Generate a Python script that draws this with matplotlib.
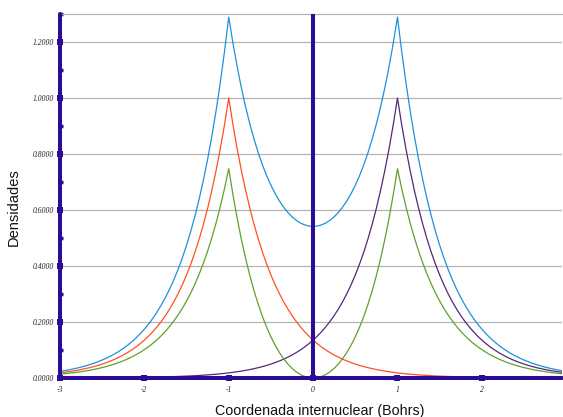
import matplotlib
matplotlib.use("Agg")
import matplotlib.pyplot as plt
from matplotlib.ticker import MultipleLocator, FormatStrFormatter

# === DATA (step 0.05 from -3 to 3) ===
x_vals = [round(-3.0 + 0.05 * i, 2) for i in range(121)]

# bonding density (blue)
dens_enlazante = [
    0.0236, 0.0261, 0.0288, 0.0319, 0.0352, 0.0389, 0.0430, 0.0475, 0.0525, 0.0581,
    0.0642, 0.0709, 0.0784, 0.0866, 0.0957, 0.1058, 0.1169, 0.1292, 0.1428, 0.1578,
    0.1744, 0.1928, 0.2131, 0.2355, 0.2602, 0.2876, 0.3179, 0.3513, 0.3882, 0.4291,
    0.4742, 0.5241, 0.5792, 0.6401, 0.7074, 0.7818, 0.8640, 0.9549, 1.0553, 1.1663,
    1.2890, 1.1958, 1.1118, 1.0362, 0.9683, 0.9074, 0.8529, 0.8041, 0.7608, 0.7223,
    0.6883, 0.6586, 0.6327, 0.6104, 0.5915, 0.5759, 0.5633, 0.5536, 0.5468, 0.5427,
    0.5413,
    0.5427, 0.5468, 0.5536, 0.5633, 0.5759, 0.5915, 0.6104, 0.6327, 0.6586, 0.6883,
    0.7223, 0.7608, 0.8041, 0.8529, 0.9074, 0.9683, 1.0362, 1.1118, 1.1958, 1.2890,
    1.1663, 1.0553, 0.9549, 0.8640, 0.7818, 0.7074, 0.6401, 0.5792, 0.5241, 0.4742,
    0.4291, 0.3882, 0.3513, 0.3179, 0.2876, 0.2602, 0.2355, 0.2131, 0.1928, 0.1744,
    0.1578, 0.1428, 0.1292, 0.1169, 0.1058, 0.0957, 0.0866, 0.0784, 0.0709, 0.0642,
    0.0581, 0.0525, 0.0475, 0.0430, 0.0389, 0.0352, 0.0319, 0.0288, 0.0261, 0.0236]

# atom A density (red)
dens_atomo_a = [
    0.0183, 0.0202, 0.0224, 0.0247, 0.0273, 0.0302, 0.0334, 0.0369, 0.0408, 0.0450,
    0.0498, 0.0550, 0.0608, 0.0672, 0.0743, 0.0821, 0.0907, 0.1003, 0.1108, 0.1225,
    0.1353, 0.1496, 0.1653, 0.1827, 0.2019, 0.2231, 0.2466, 0.2725, 0.3012, 0.3329,
    0.3679, 0.4066, 0.4493, 0.4966, 0.5488, 0.6065, 0.6703, 0.7408, 0.8187, 0.9048,
    1.0000,
    0.9048, 0.8187, 0.7408, 0.6703, 0.6065, 0.5488, 0.4966, 0.4493, 0.4066, 0.3679,
    0.3329, 0.3012, 0.2725, 0.2466, 0.2231, 0.2019, 0.1827, 0.1653, 0.1496, 0.1353,
    0.1225, 0.1108, 0.1003, 0.0907, 0.0821, 0.0743, 0.0672, 0.0608, 0.0550, 0.0498,
    0.0450, 0.0408, 0.0369, 0.0334, 0.0302, 0.0273, 0.0247, 0.0224, 0.0202, 0.0183,
    0.0166, 0.0150, 0.0136, 0.0123, 0.0111, 0.0101, 0.0091, 0.0082, 0.0074, 0.0067,
    0.0061, 0.0055, 0.0050, 0.0045, 0.0041, 0.0037, 0.0033, 0.0030, 0.0027, 0.0025,
    0.0022, 0.0020, 0.0018, 0.0017, 0.0015, 0.0014, 0.0012, 0.0011, 0.0010, 0.0009,
    0.0008, 0.0007, 0.0007, 0.0006, 0.0006, 0.0005, 0.0005, 0.0004, 0.0004, 0.0003]

# atom B density (purple)
dens_atomo_b = [
    0.0003, 0.0004, 0.0004, 0.0005, 0.0005, 0.0006, 0.0006, 0.0007, 0.0007, 0.0008,
    0.0009, 0.0010, 0.0011, 0.0012, 0.0014, 0.0015, 0.0017, 0.0018, 0.0020, 0.0022,
    0.0025, 0.0027, 0.0030, 0.0033, 0.0037, 0.0041, 0.0045, 0.0050, 0.0055, 0.0061,
    0.0067, 0.0074, 0.0082, 0.0091, 0.0101, 0.0111, 0.0123, 0.0136, 0.0150, 0.0166,
    0.0183, 0.0202, 0.0224, 0.0247, 0.0273, 0.0302, 0.0334, 0.0369, 0.0408, 0.0450,
    0.0498, 0.0550, 0.0608, 0.0672, 0.0743, 0.0821, 0.0907, 0.1003, 0.1108, 0.1225,
    0.1353, 0.1496, 0.1653, 0.1827, 0.2019, 0.2231, 0.2466, 0.2725, 0.3012, 0.3329,
    0.3679, 0.4066, 0.4493, 0.4966, 0.5488, 0.6065, 0.6703, 0.7408, 0.8187, 0.9048,
    1.0000,
    0.9048, 0.8187, 0.7408, 0.6703, 0.6065, 0.5488, 0.4966, 0.4493, 0.4066, 0.3679,
    0.3329, 0.3012, 0.2725, 0.2466, 0.2231, 0.2019, 0.1827, 0.1653, 0.1496, 0.1353,
    0.1225, 0.1108, 0.1003, 0.0907, 0.0821, 0.0743, 0.0672, 0.0608, 0.0550, 0.0498,
    0.0450, 0.0408, 0.0369, 0.0334, 0.0302, 0.0273, 0.0247, 0.0224, 0.0202, 0.0183]

# antibonding density (green)
dens_antienlazante = [
    0.0137, 0.0151, 0.0167, 0.0185, 0.0204, 0.0226, 0.0250, 0.0276, 0.0305, 0.0337,
    0.0372, 0.0411, 0.0455, 0.0502, 0.0555, 0.0614, 0.0678, 0.0750, 0.0828, 0.0916,
    0.1012, 0.1118, 0.1236, 0.1366, 0.1509, 0.1668, 0.1844, 0.2038, 0.2252, 0.2489,
    0.2750, 0.3040, 0.3359, 0.3713, 0.4103, 0.4535, 0.5012, 0.5539, 0.6121, 0.6765,
    0.7476, 0.6544, 0.5704, 0.4949, 0.4270, 0.3661, 0.3115, 0.2628, 0.2194, 0.1810,
    0.1470, 0.1172, 0.0913, 0.0691, 0.0502, 0.0346, 0.0219, 0.0123, 0.0054, 0.0014,
    0.0000,
    0.0014, 0.0054, 0.0123, 0.0219, 0.0346, 0.0502, 0.0691, 0.0913, 0.1172, 0.1470,
    0.1810, 0.2194, 0.2628, 0.3115, 0.3661, 0.4270, 0.4949, 0.5704, 0.6544, 0.7476,
    0.6765, 0.6121, 0.5539, 0.5012, 0.4535, 0.4103, 0.3713, 0.3359, 0.3040, 0.2750,
    0.2489, 0.2252, 0.2038, 0.1844, 0.1668, 0.1509, 0.1366, 0.1236, 0.1118, 0.1012,
    0.0916, 0.0828, 0.0750, 0.0678, 0.0614, 0.0555, 0.0502, 0.0455, 0.0411, 0.0372,
    0.0337, 0.0305, 0.0276, 0.0250, 0.0226, 0.0204, 0.0185, 0.0167, 0.0151, 0.0137]

x_ticks = [-3, -2, -1, 0, 1, 2]

# === STYLE ===
AXIS_COL = "#2a0c96"
GRID_COL = "#b4b4b4"
TICK_FONT = {"family": "Liberation Serif", "style": "italic", "size": 5.5}

fig = plt.figure(figsize=(5.63, 4.17), dpi=100)
ax = fig.add_axes([60 / 563, 39 / 417, 502 / 563, 364 / 417])

ax.plot(x_vals, dens_enlazante, color="#1e90dc", lw=0.9, zorder=3)
ax.plot(x_vals, dens_atomo_a, color="#ff5022", lw=0.9, zorder=3)
ax.plot(x_vals, dens_atomo_b, color="#55267a", lw=0.9, zorder=3)
ax.plot(x_vals, dens_antienlazante, color="#62a02a", lw=0.9, zorder=3)

ax.set_xlim(-3, 2.95)
ax.set_ylim(0, 1.3)

# gridlines + axes
ax.yaxis.set_major_locator(MultipleLocator(0.2))
ax.yaxis.set_minor_locator(MultipleLocator(0.1))
ax.yaxis.set_major_formatter(FormatStrFormatter("%.4f"))
ax.set_xticks(x_ticks)
ax.set_xticklabels([str(t) for t in x_ticks])
ax.grid(axis="y", color=GRID_COL, lw=0.9, zorder=1)
ax.set_axisbelow(True)

ax.axvline(0, color=AXIS_COL, lw=2.9, zorder=4)

ax.spines["right"].set_visible(False)
ax.spines["top"].set_color(GRID_COL)
ax.spines["top"].set_linewidth(0.9)
for side in ["left", "bottom"]:
    ax.spines[side].set_color(AXIS_COL)
    ax.spines[side].set_linewidth(2.9)
    ax.spines[side].set_capstyle("round")
    ax.spines[side].set_zorder(4)

ax.tick_params(which="major", direction="inout", length=5, width=4.3, color=AXIS_COL, pad=2)
ax.tick_params(axis="y", which="minor", direction="in", length=2.5, width=2.5, color=AXIS_COL)
ax.tick_params(axis="x", which="major", pad=3)
for lbl in ax.get_xticklabels() + ax.get_yticklabels():
    lbl.set_fontproperties(TICK_FONT)
    lbl.set_color("#222222")

ax.set_xlabel("Coordenada internuclear (Bohrs)", fontsize=10.3, family="Liberation Sans", color="#111111")
ax.xaxis.set_label_coords(0.518, -0.072)
ax.set_ylabel("Densidades", fontsize=10.5, family="Liberation Sans", color="#111111")
ax.yaxis.set_label_coords(-0.078, 0.47)

plt.savefig("out.png", dpi=100)
plt.close()
